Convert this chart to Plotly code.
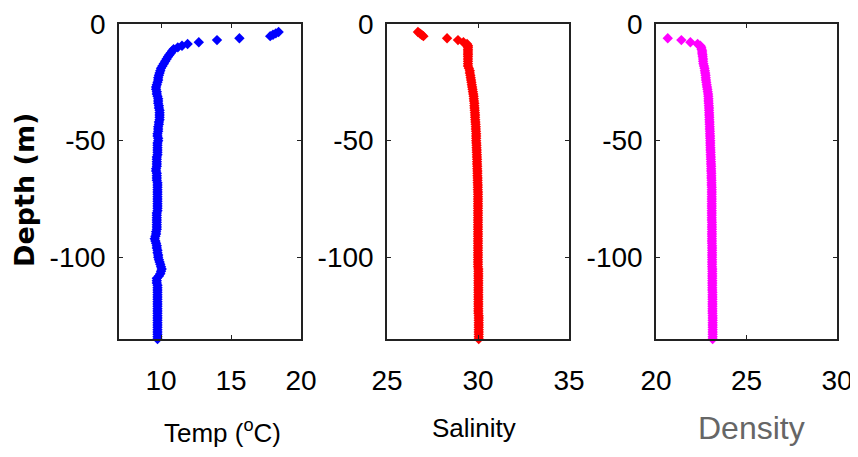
import plotly.graph_objects as go

# ---- data ----
DEPTH = [-3.4, -4.0, -4.6, -5.2, -6.1, -6.9, -7.8, -8.6, -9.3, -10.0,
         -10.8, -11.6, -12.4, -13.2, -14.0,
         -15, -16, -17, -18, -19, -20, -21, -22, -23, -24,
         -25, -26, -27, -28, -29, -30, -31, -32, -33, -34,
         -35, -36, -37, -38, -39, -40, -41, -42, -43, -44,
         -45, -46, -47, -48, -49, -50, -51, -52, -53, -54,
         -55, -56, -57, -58, -59, -60, -61, -62, -63, -64,
         -65, -66, -67, -68, -69, -70, -71, -72, -73, -74,
         -75, -76, -77, -78, -79, -80, -81, -82, -83, -84,
         -85, -86, -87, -88, -89, -90, -91, -92, -93, -94,
         -95, -96, -97, -98, -99, -100, -101, -102, -103, -104,
         -105, -106, -107, -108, -109, -110, -111, -112, -113, -114,
         -115, -116, -117, -118, -119, -120, -121, -122, -123, -124,
         -125, -126, -127, -128, -129, -130, -131, -132, -133, -134, -135]

TEMP = [18.4, 18.2, 18.0, 17.8, 15.6, 14.0, 12.7, 11.9, 11.5, 11.2,
        10.9, 10.8, 10.7, 10.6, 10.5,
        10.4, 10.3, 10.2, 10.1, 10.0, 9.95, 9.9, 9.85, 9.8, 9.8,
        9.75, 9.7, 9.65, 9.65, 9.7, 9.7, 9.75, 9.8, 9.8, 9.8,
        9.85, 9.85, 9.9, 9.9, 9.9, 9.9, 9.9, 9.85, 9.85, 9.8,
        9.8, 9.8, 9.75, 9.75, 9.8, 9.8, 9.75, 9.75, 9.75, 9.75,
        9.75, 9.75, 9.7, 9.7, 9.7, 9.7, 9.7, 9.65, 9.65, 9.7,
        9.7, 9.7, 9.7, 9.75, 9.75, 9.75, 9.75, 9.75, 9.75, 9.75,
        9.75, 9.75, 9.75, 9.75, 9.75, 9.75, 9.7, 9.7, 9.7, 9.7,
        9.7, 9.7, 9.7, 9.7, 9.65, 9.65, 9.6, 9.55, 9.6, 9.65,
        9.7, 9.7, 9.75, 9.75, 9.8, 9.8, 9.85, 9.9, 9.95, 10.0,
        10.05, 10.0, 9.95, 9.85, 9.7, 9.7, 9.7, 9.75, 9.75, 9.75,
        9.75, 9.75, 9.75, 9.75, 9.75, 9.75, 9.75, 9.75, 9.75, 9.75,
        9.75, 9.75, 9.75, 9.75, 9.75, 9.75, 9.75, 9.75, 9.75, 9.75, 9.75]

SALINITY = [26.7, 26.8, 26.9, 27.0, 28.3, 28.9, 29.2, 29.4, 29.45, 29.45,
            29.45, 29.45, 29.45, 29.45, 29.45,
            29.45, 29.45, 29.45, 29.45, 29.5, 29.55, 29.55, 29.58, 29.6, 29.62,
            29.64, 29.66, 29.68, 29.7, 29.72, 29.74, 29.76, 29.77, 29.78, 29.8,
            29.8, 29.81, 29.82, 29.83, 29.84, 29.84, 29.85, 29.86, 29.87, 29.88,
            29.88, 29.89, 29.9, 29.9, 29.9, 29.9, 29.91, 29.92, 29.92, 29.93,
            29.93, 29.94, 29.94, 29.95, 29.95, 29.95, 29.96, 29.96, 29.97, 29.97,
            29.97, 29.98, 29.98, 29.98, 29.99, 29.99, 29.99, 30.0, 30.0, 30.0,
            30.0, 30.0, 30.0, 30.0, 30.0, 30.0, 30.0, 30.0, 30.0, 30.0,
            30.0, 30.0, 30.0, 30.0, 30.0, 30.0, 30.0, 30.0, 30.0, 30.0,
            30.0, 30.0, 30.0, 30.0, 30.0, 30.0, 30.0, 30.0, 30.0, 30.0,
            30.02, 30.02, 30.02, 30.02, 30.02, 30.02, 30.02, 30.02, 30.02, 30.02,
            30.02, 30.02, 30.02, 30.02, 30.02, 30.02, 30.02, 30.02, 30.02, 30.02,
            30.04, 30.04, 30.04, 30.04, 30.04, 30.04, 30.04, 30.04, 30.04, 30.04, 30.04]

DENSITY = [None, None, None, None, 20.65, 21.4, 21.9, 22.3, 22.45, 22.5,
           22.52, 22.55, 22.55, 22.57, 22.58,
           22.6, 22.6, 22.62, 22.65, 22.68, 22.7, 22.72, 22.74, 22.75, 22.76,
           22.78, 22.8, 22.82, 22.84, 22.86, 22.88, 22.89, 22.9, 22.9, 22.91,
           22.92, 22.93, 22.93, 22.94, 22.94, 22.95, 22.95, 22.96, 22.96, 22.97,
           22.97, 22.98, 22.98, 22.99, 22.99, 23.0, 23.0, 23.0, 23.01, 23.01,
           23.02, 23.02, 23.03, 23.03, 23.04, 23.04, 23.05, 23.05, 23.05, 23.06,
           23.06, 23.06, 23.07, 23.07, 23.07, 23.08, 23.08, 23.08, 23.08, 23.08,
           23.08, 23.08, 23.08, 23.08, 23.08, 23.08, 23.08, 23.08, 23.08, 23.08,
           23.09, 23.09, 23.09, 23.09, 23.09, 23.09, 23.09, 23.09, 23.09, 23.09,
           23.1, 23.1, 23.1, 23.1, 23.1, 23.1, 23.1, 23.1, 23.1, 23.1,
           23.11, 23.11, 23.11, 23.11, 23.11, 23.11, 23.11, 23.11, 23.11, 23.11,
           23.12, 23.12, 23.12, 23.12, 23.12, 23.12, 23.12, 23.12, 23.12, 23.12,
           23.13, 23.13, 23.13, 23.13, 23.13, 23.13, 23.13, 23.13, 23.13, 23.13, 23.13]

DEPTH_TICKS = [0, -50, -100]
DEPTH_TICK_LABELS = ["0", "-50", "-100"]
TEMP_TICKS = [10, 15, 20]
SAL_TICKS = [25, 30, 35]
DEN_TICKS = [20, 25, 30]

# ---- figure ----
# page body has an 8px default margin, so the figure is drawn 8px in and made smaller
OFF = 8
W, H = 850, 441
SANS = "Liberation Sans, Arial, sans-serif"
TICKFONT = dict(family=SANS, size=28, color="black")

fig = go.Figure()
series = [(TEMP, "#0000ff", "x", "y"),
          (SALINITY, "#ff0000", "x2", "y2"),
          (DENSITY, "#ff00ff", "x3", "y3")]
for vals, col, xa, ya in series:
    fig.add_trace(go.Scatter(x=vals, y=DEPTH, mode="markers", xaxis=xa, yaxis=ya,
                             marker=dict(symbol="diamond", size=8, color=col,
                                         line=dict(width=0)),
                             cliponaxis=False, showlegend=False))

def px_x(p):
    return (p - OFF) / W

def px_y(p):
    return 1 - (p - OFF) / H

ydom = [px_y(339), px_y(24)]
panels = [((119, 301), [7, 20], TEMP_TICKS),
          ((387, 569), [25, 35], SAL_TICKS),
          ((656, 837), [20, 30], DEN_TICKS)]

axis_common = dict(showline=True, linecolor="#222222", linewidth=1.5, mirror="ticks",
                   ticks="inside", ticklen=4, tickwidth=1.2, tickcolor="#222222",
                   showgrid=False, zeroline=False, tickfont=TICKFONT, automargin=False)

layout = dict(width=W, height=H, margin=dict(l=0, r=0, t=0, b=0, autoexpand=False),
              paper_bgcolor="white", plot_bgcolor="white")
for i, ((x0, x1), xr, xt) in enumerate(panels):
    sfx = "" if i == 0 else str(i + 1)
    layout["xaxis" + sfx] = dict(domain=[px_x(x0), px_x(x1)], range=xr, tickvals=xt,
                                 ticktext=[str(v) for v in xt], anchor="y" + sfx,
                                 ticklabelstandoff=16, **axis_common)
    layout["yaxis" + sfx] = dict(domain=ydom, range=[-135, 0], tickvals=DEPTH_TICKS,
                                 ticktext=DEPTH_TICK_LABELS, anchor="x" + sfx,
                                 ticklabelstandoff=6, **axis_common)
fig.update_layout(**layout)

ann = [
    dict(text="Temp (<sup>o</sup>C)", x=px_x(222), y=px_y(431),
         font=dict(family=SANS, size=26, color="black")),
    dict(text="Salinity", x=px_x(474), y=px_y(428),
         font=dict(family=SANS, size=26, color="black")),
    dict(text="Density", x=px_x(751), y=px_y(428),
         font=dict(family=SANS, size=32, color="#666666")),
    dict(text="<b>Depth (m)</b>", x=px_x(24), y=px_y(190), textangle=-90,
         font=dict(family="DejaVu Sans, sans-serif", size=27, color="black")),
]
for a in ann:
    fig.add_annotation(xref="paper", yref="paper", showarrow=False,
                       xanchor="center", yanchor="middle", **a)

fig.write_html("out.html")
